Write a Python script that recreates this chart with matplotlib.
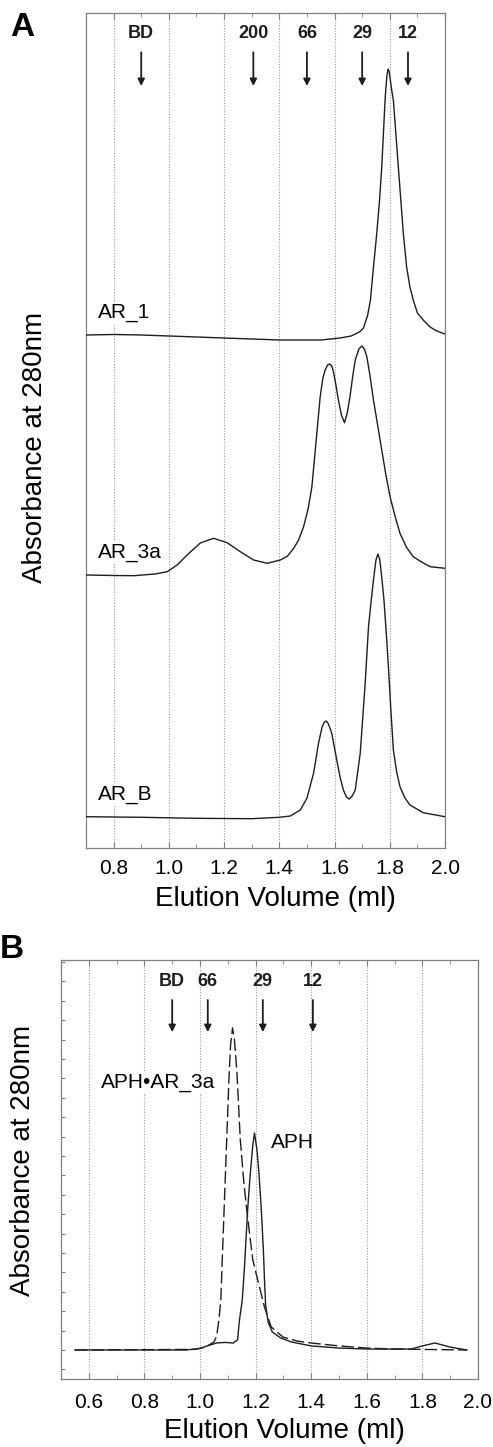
import numpy as np
import matplotlib
matplotlib.use('Agg')
import matplotlib.pyplot as plt
from matplotlib.ticker import MultipleLocator

plt.rcParams['font.family'] = ['Liberation Sans', 'DejaVu Sans']

# ---- Panel A: three traces, absorbance above each trace's own baseline ----
ar1_x = [0.70, 0.80, 0.90, 1.00, 1.20, 1.40, 1.55, 1.62, 1.66, 1.69, 1.705, 1.72,
         1.73, 1.74, 1.753, 1.763, 1.771, 1.783, 1.786, 1.790, 1.794, 1.798, 1.803,
         1.808, 1.813, 1.831, 1.849, 1.861, 1.873, 1.885, 1.90, 1.921, 1.946, 1.97, 2.00]
ar1_y = [0.00, 0.005, 0.00, -0.01, -0.03, -0.05, -0.05, -0.03, -0.01, 0.03, 0.07, 0.20,
         0.35, 0.65, 1.02, 1.35, 1.68, 2.35, 2.47, 2.60, 2.66, 2.63, 2.53,
         2.43, 2.35, 1.68, 1.02, 0.68, 0.48, 0.35, 0.22, 0.15, 0.08, 0.04, 0.01]

ar3a_x = [0.70, 0.80, 0.873, 0.95, 0.994, 1.03, 1.066, 1.114, 1.162, 1.211, 1.259, 1.307,
          1.356, 1.404, 1.43, 1.452, 1.47, 1.488, 1.505, 1.518, 1.536, 1.548, 1.558, 1.566,
          1.575, 1.582, 1.590, 1.596, 1.605, 1.614, 1.625, 1.636, 1.646, 1.656, 1.666, 1.675,
          1.688, 1.699, 1.708, 1.717, 1.728, 1.741, 1.756, 1.771, 1.786, 1.801, 1.820, 1.837,
          1.86, 1.885, 1.915, 1.946, 2.00]
ar3a_y = [0.00, -0.005, -0.007, 0.01, 0.033, 0.10, 0.20, 0.32, 0.367, 0.323, 0.233, 0.15,
          0.117, 0.15, 0.19, 0.267, 0.35, 0.483, 0.67, 0.883, 1.42, 1.783, 1.97, 2.05,
          2.10, 2.11, 2.09, 2.033, 1.90, 1.75, 1.60, 1.523, 1.62, 1.783, 1.99, 2.15,
          2.26, 2.29, 2.26, 2.183, 2.00, 1.75, 1.50, 1.25, 1.00, 0.783, 0.58, 0.417,
          0.28, 0.183, 0.13, 0.083, 0.067]

arb_x = [0.70, 0.90, 1.10, 1.30, 1.40, 1.44, 1.476, 1.50, 1.524, 1.542, 1.555, 1.563,
         1.570, 1.578, 1.590, 1.608, 1.620, 1.632, 1.643, 1.653, 1.664, 1.675, 1.693,
         1.711, 1.723, 1.733, 1.741, 1.750, 1.757, 1.764, 1.772, 1.779, 1.789, 1.795,
         1.804, 1.813, 1.825, 1.837, 1.855, 1.873, 1.921, 2.00]
arb_y = [0.003, -0.003, -0.013, -0.017, -0.003, 0.01, 0.07, 0.187, 0.437, 0.737, 0.90, 0.95,
         0.96, 0.93, 0.837, 0.57, 0.40, 0.27, 0.20, 0.18, 0.21, 0.27, 0.637,
         1.337, 1.903, 2.17, 2.37, 2.57, 2.63, 2.57, 2.37, 2.17, 1.77, 1.503,
         1.07, 0.67, 0.45, 0.303, 0.19, 0.12, 0.043, 0.003]

traces_a = ['AR_1', 'AR_3a', 'AR_B']
offsets_a = [5.13, 2.73, 0.31]
markers_a = ['BD', '200', '66', '29', '12']
markers_a_x = [0.90, 1.306, 1.50, 1.70, 1.866]

# ---- Panel B ----
aph_x = [0.55, 0.95, 1.00, 1.03, 1.06, 1.09, 1.12, 1.135, 1.142, 1.152, 1.160, 1.172,
         1.181, 1.190, 1.196, 1.205, 1.212, 1.220, 1.228, 1.232, 1.236, 1.245, 1.26,
         1.29, 1.33, 1.40, 1.50, 1.60, 1.76, 1.80, 1.845, 1.90, 1.96]
aph_y = [0.0, 0.0, 0.08, 0.23, 0.36, 0.39, 0.36, 0.52, 1.55, 2.58, 4.28, 7.37,
         9.12, 10.57, 11.18, 10.31, 9.12, 7.37, 5.15, 3.61, 2.32, 1.44, 0.93,
         0.62, 0.41, 0.21, 0.10, 0.05, 0.05, 0.21, 0.36, 0.15, 0.0]

cplx_x = [0.55, 0.98, 1.02, 1.05, 1.06, 1.068, 1.075, 1.080, 1.088, 1.096, 1.104, 1.110,
          1.117, 1.124, 1.133, 1.145, 1.157, 1.167, 1.181, 1.19, 1.203, 1.232, 1.256,
          1.298, 1.35, 1.40, 1.50, 1.60, 1.70, 1.80, 1.96]
cplx_y = [0.0, 0.03, 0.15, 0.41, 0.72, 1.55, 2.58, 4.64, 7.73, 10.82, 13.92, 15.72,
          16.60, 15.98, 14.28, 10.82, 8.76, 7.37, 5.67, 4.64, 3.87, 2.21, 1.19,
          0.67, 0.46, 0.36, 0.21, 0.10, 0.05, 0.03, 0.0]

markers_b = ['BD', '66', '29', '12']
markers_b_x = [0.90, 1.028, 1.226, 1.406]

ink = '#1e1e1e'
W, H = 493, 1447
fig = plt.figure(figsize=(W / 100, H / 100), dpi=100)


def style_axis(ax, xmin, xmax):
    ax.set_xlim(xmin, xmax)
    ax.xaxis.set_major_locator(MultipleLocator(0.2))
    ax.xaxis.set_minor_locator(MultipleLocator(0.1))
    ax.xaxis.set_major_formatter(matplotlib.ticker.FormatStrFormatter('%.1f'))
    ax.grid(axis='x', which='major', linestyle=(0, (1, 1.5)), color='#9a9a9a', linewidth=0.8)
    for s in ax.spines.values():
        s.set_color('#808080')
        s.set_linewidth(0.9)
    ax.tick_params(axis='x', which='both', direction='in', top=True, bottom=True,
                   color='#808080', labelsize=15, pad=8)
    ax.tick_params(axis='x', which='major', length=4)
    ax.tick_params(axis='x', which='minor', length=3)


# Panel A
axa = fig.add_axes([86 / W, 1 - 848 / H, (445 - 86) / W, (848 - 13) / H])
style_axis(axa, 0.7, 2.0)
axa.set_ylim(0, 8.35)
axa.set_yticks([])

curves = [(ar1_x, ar1_y), (ar3a_x, ar3a_y), (arb_x, arb_y)]
for (xs, ys), name, off in zip(curves, traces_a, offsets_a):
    axa.plot(xs, np.array(ys) + off, color=ink, lw=1.0, zorder=3)
    axa.text(0.745, off + 0.22, name, fontsize=15, ha='left', va='center', zorder=4,
             bbox=dict(facecolor='white', edgecolor='none', pad=1))

for lab, xv in zip(markers_a, markers_a_x):
    axa.text(xv, 0.975, lab, transform=axa.get_xaxis_transform(), ha='center',
             va='center', fontsize=13, fontweight='bold', color=ink)
    axa.annotate('', xy=(xv, 0.9126), xytext=(xv, 0.953),
                 xycoords=('data', 'axes fraction'), textcoords=('data', 'axes fraction'),
                 arrowprops=dict(arrowstyle='-|>', color=ink, lw=1.3, mutation_scale=10,
                                 shrinkA=0, shrinkB=0))

fig.text(35 / W, 1 - 447 / H, 'Absorbance at 280nm', rotation=90, fontsize=20,
         ha='center', va='center')
fig.text(275 / W, 1 - 899 / H, 'Elution Volume (ml)', fontsize=20, ha='center', va='center')
fig.text(22 / W, 1 - 27 / H, 'A', fontsize=24, fontweight='bold', ha='center', va='center')

# Panel B
axb = fig.add_axes([61 / W, 1 - 1379 / H, (478 - 61) / W, (1379 - 960) / H])
style_axis(axb, 0.5, 2.0)
axb.set_ylim(-1.495, 20.1)
axb.yaxis.set_major_locator(MultipleLocator(1))
axb.tick_params(axis='y', direction='in', length=3, color='#808080', labelleft=False)
axb.tick_params(axis='x', pad=10)

axb.plot(aph_x, aph_y, color=ink, lw=1.0, zorder=3)
axb.plot(cplx_x, cplx_y, color=ink, lw=1.0, linestyle=(0, (9, 3)), zorder=3)
axb.text(0.645, 13.8, 'APH\u2022AR_3a', fontsize=15, ha='left', va='center', zorder=4,
         bbox=dict(facecolor='white', edgecolor='none', pad=1))
axb.text(1.255, 10.7, 'APH', fontsize=15, ha='left', va='center', zorder=4)

for lab, xv in zip(markers_b, markers_b_x):
    axb.text(xv, 0.9475, lab, transform=axb.get_xaxis_transform(), ha='center',
             va='center', fontsize=13, fontweight='bold', color=ink)
    axb.annotate('', xy=(xv, 0.828), xytext=(xv, 0.9045),
                 xycoords=('data', 'axes fraction'), textcoords=('data', 'axes fraction'),
                 arrowprops=dict(arrowstyle='-|>', color=ink, lw=1.3, mutation_scale=10,
                                 shrinkA=0, shrinkB=0))

fig.text(23 / W, 1 - 1160 / H, 'Absorbance at 280nm', rotation=90, fontsize=20,
         ha='center', va='center')
fig.text(284 / W, 1 - 1431 / H, 'Elution Volume (ml)', fontsize=20, ha='center', va='center')
fig.text(12 / W, 1 - 950 / H, 'B', fontsize=24, fontweight='bold', ha='center', va='center')

fig.savefig('out.png', dpi=100)
